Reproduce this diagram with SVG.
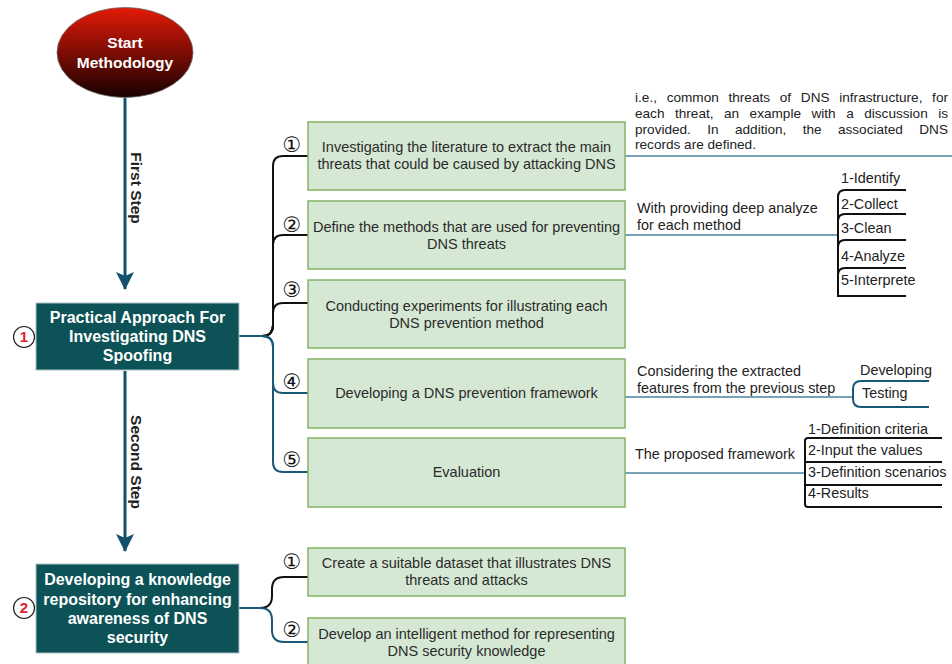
<svg xmlns="http://www.w3.org/2000/svg" width="952" height="664" viewBox="0 0 952 664">
<defs>
  <linearGradient id="redgrad" x1="0" y1="0" x2="0" y2="1">
    <stop offset="0" stop-color="#e31a08"/>
    <stop offset="1" stop-color="#170000"/>
  </linearGradient>
  <marker id="arrow" markerUnits="userSpaceOnUse" markerWidth="20" markerHeight="20" viewBox="0 0 20 20" refX="18" refY="10" orient="auto">
    <path d="M1,1 L19,10 L1,19 L5,10 z" fill="#12506b"/>
  </marker>
</defs>
<style>
  .main { fill: #0c5256; stroke: #a9c1c3; stroke-width: 1; }
  .mtxt { font-family: "Liberation Sans", Arial, sans-serif; font-size: 16px; font-weight: bold; fill: #ffffff; text-anchor: middle; }
  .box { fill: #d5e8d4; stroke: #82b366; stroke-width: 1.5; }
  .btxt { font-family: "Liberation Sans", Arial, sans-serif; font-size: 14.5px; fill: #2b2b2b; text-anchor: middle; }
  .note { font-family: "Liberation Sans", Arial, sans-serif; font-size: 14.4px; fill: #222222; }
  .para { font-family: "Liberation Sans", Arial, sans-serif; font-size: 13.6px; fill: #222222; }
  .num { font-family: "DejaVu Sans", sans-serif; font-size: 21px; fill: #111111; text-anchor: middle; }
  .step { font-family: "Liberation Sans", Arial, sans-serif; font-size: 15.5px; font-weight: bold; fill: #222222; text-anchor: middle; }
  .black { fill: none; stroke: #111111; stroke-width: 2; }
  .blue { fill: none; stroke: #1b5877; stroke-width: 2; }
  .thin { fill: none; stroke: #4a82a2; stroke-width: 1.5; }
  .flow { fill: none; stroke: #12506b; stroke-width: 3; }
  .redc { fill: #ffffff; stroke: #222222; stroke-width: 1.2; }
  .redn { font-family: "Liberation Sans", Arial, sans-serif; font-size: 15px; font-weight: bold; fill: #e0202a; text-anchor: middle; }
</style>

<g id="connectors">
  <path class="flow" d="M125,98 V289" marker-end="url(#arrow)"/>
  <path class="flow" d="M125,371 V551" marker-end="url(#arrow)"/>
  <text class="step" transform="translate(131,188) rotate(90)">First Step</text>
  <text class="step" transform="translate(131,462) rotate(90)">Second Step</text>

  <path class="black" d="M239,336 H262 Q273,336 273,325 V166 Q273,156 283,156 H308"/>
  <path class="black" d="M239,336 H262 Q273,336 273,325 V245 Q273,235 283,235 H308"/>
  <path class="black" d="M239,336 H262 Q273,336 273,325 V313 Q273,303 283,303 H308"/>
  <path class="blue" d="M239,336 H262 Q273,336 273,347 V383 Q273,393 283,393 H308"/>
  <path class="blue" d="M239,336 H262 Q273,336 273,347 V462 Q273,472 283,472 H308"/>

  <path class="black" d="M239,608 H260 Q272,608 272,596 V589 Q272,577 284,577 H308"/>
  <path class="blue" d="M239,608 H260 Q272,608 272,620 V630 Q272,642 284,642 H308"/>

  <path class="thin" d="M625,156 H952"/>
  <path class="thin" d="M625,235 H838"/>
  <path class="thin" d="M625,397 H852"/>
  <path class="thin" d="M625,473 H805"/>

  <path class="black" d="M906,190 H845 Q838,190 838,197 V296 H906"/>
  <path class="black" d="M906,214 H845 Q838,214 838,221"/>
  <path class="black" d="M906,240 H845 Q838,240 838,247"/>
  <path class="black" d="M906,268 H845 Q838,268 838,275"/>

  <path class="blue" d="M929,381 H861 Q853,381 853,389 V399 Q853,407 861,407 H929"/>

  <path class="black" d="M942,438 H808 Q805,438 805,441 V504 Q805,507 808,507 H942"/>
  <path class="black" d="M942,462 H805"/>
  <path class="black" d="M942,485 H805"/>
</g>

<g id="start">
  <ellipse cx="125" cy="52.5" rx="68" ry="45" fill="url(#redgrad)" stroke="#6b6b6b" stroke-width="0.8"/>
  <text class="mtxt" x="125" y="48" style="font-size:15.5px">Start</text>
  <text class="mtxt" x="125" y="68" style="font-size:15.5px">Methodology</text>
</g>

<g id="main1">
  <rect class="main" x="36" y="303" width="203" height="67"/>
  <text class="mtxt" x="137.5" y="323">Practical Approach For</text>
  <text class="mtxt" x="137.5" y="342">Investigating DNS</text>
  <text class="mtxt" x="137.5" y="361">Spoofing</text>
  <circle class="redc" cx="24" cy="337" r="10.5"/>
  <text class="redn" x="24" y="342">1</text>
</g>

<g id="main2">
  <rect class="main" x="36" y="564" width="203" height="89"/>
  <text class="mtxt" x="137.5" y="585">Developing a knowledge</text>
  <text class="mtxt" x="137.5" y="605">repository for enhancing</text>
  <text class="mtxt" x="137.5" y="624">awareness of DNS</text>
  <text class="mtxt" x="137.5" y="643">security</text>
  <circle class="redc" cx="24" cy="608" r="10.5"/>
  <text class="redn" x="24" y="613">2</text>
</g>

<g id="task1">
  <rect class="box" x="308" y="122" width="317" height="68"/>
  <text class="btxt" x="466.5" y="152">Investigating the literature to extract the main</text>
  <text class="btxt" x="466.5" y="169">threats that could be caused by attacking DNS</text>
  <text class="num" x="292" y="151.5">①</text>
</g>
<g id="task2">
  <rect class="box" x="308" y="201" width="317" height="68"/>
  <text class="btxt" x="466.5" y="232">Define the methods that are used for preventing</text>
  <text class="btxt" x="466.5" y="249">DNS threats</text>
  <text class="num" x="292" y="231.5">②</text>
</g>
<g id="task3">
  <rect class="box" x="308" y="280" width="317" height="68"/>
  <text class="btxt" x="466.5" y="311">Conducting experiments for illustrating each</text>
  <text class="btxt" x="466.5" y="328">DNS prevention method</text>
  <text class="num" x="292" y="296.5">③</text>
</g>
<g id="task4">
  <rect class="box" x="308" y="359" width="317" height="69"/>
  <text class="btxt" x="466.5" y="398">Developing a DNS prevention framework</text>
  <text class="num" x="292" y="388.5">④</text>
</g>
<g id="task5">
  <rect class="box" x="308" y="438" width="317" height="69"/>
  <text class="btxt" x="466.5" y="477">Evaluation</text>
  <text class="num" x="292" y="466.5">⑤</text>
</g>
<g id="task6">
  <rect class="box" x="308" y="548" width="317" height="48"/>
  <text class="btxt" x="466.5" y="568">Create a suitable dataset that illustrates DNS</text>
  <text class="btxt" x="466.5" y="585">threats and attacks</text>
  <text class="num" x="292" y="568.5">①</text>
</g>
<g id="task7">
  <rect class="box" x="308" y="618" width="317" height="68"/>
  <text class="btxt" x="466.5" y="639">Develop an intelligent method for representing</text>
  <text class="btxt" x="466.5" y="656">DNS security knowledge</text>
  <text class="num" x="292" y="636.5">②</text>
</g>

<g id="note1">
  <text class="para" x="635" y="102" word-spacing="5.9" textLength="313" lengthAdjust="spacing">i.e., common threats of DNS infrastructure, for</text>
  <text class="para" x="635" y="117.5" word-spacing="6.7" textLength="313" lengthAdjust="spacing">each threat, an example with a discussion is</text>
  <text class="para" x="635" y="133.5" word-spacing="12.6" textLength="313" lengthAdjust="spacing">provided. In addition, the associated DNS</text>
  <text class="para" x="635" y="149">records are defined.</text>
</g>
<g id="note2">
  <text class="note" x="637" y="213">With providing deep analyze</text>
  <text class="note" x="637" y="230">for each method</text>
</g>
<g id="steps2">
  <text class="note" x="841" y="183">1-Identify</text>
  <text class="note" x="841" y="209">2-Collect</text>
  <text class="note" x="841" y="233">3-Clean</text>
  <text class="note" x="841" y="261">4-Analyze</text>
  <text class="note" x="841" y="285">5-Interprete</text>
</g>
<g id="note4">
  <text class="note" x="637" y="376">Considering the extracted</text>
  <text class="note" x="637" y="393">features from the previous step</text>
</g>
<g id="steps4">
  <text class="note" x="860" y="375">Developing</text>
  <text class="note" x="862" y="398">Testing</text>
</g>
<g id="note5">
  <text class="note" x="635" y="459">The proposed framework</text>
</g>
<g id="steps5">
  <text class="note" x="808" y="434">1-Definition criteria</text>
  <text class="note" x="808" y="455">2-Input the values</text>
  <text class="note" x="808" y="477">3-Definition scenarios</text>
  <text class="note" x="808" y="498">4-Results</text>
</g>
</svg>
